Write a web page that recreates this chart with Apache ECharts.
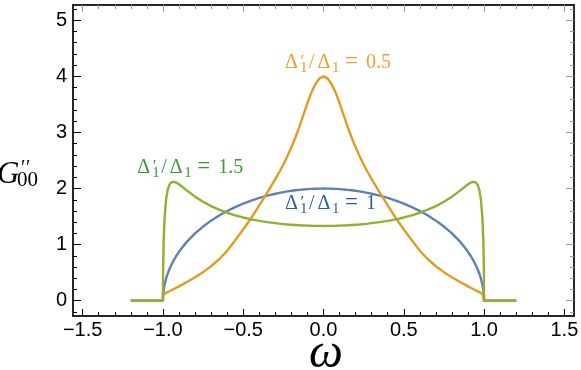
<!DOCTYPE html>
<html><head><meta charset="utf-8">
<script src="https://cdn.jsdelivr.net/npm/echarts@6/dist/echarts.min.js"></script>
<style>html,body{margin:0;padding:0;background:#fff}#c{width:581px;height:370px}</style>
</head><body><div id="c"></div>
<script>
// ---------- data ----------
const omega = [-1.2,-1.1,-1.0,-0.999,-0.995,-0.99,-0.98,-0.97,-0.96,-0.95,-0.935,-0.92,-0.9,-0.88,-0.85,-0.8,-0.75,-0.7,-0.65,-0.6,-0.55,-0.5,-0.45,-0.4,-0.35,-0.3,-0.275,-0.25,-0.225,-0.2,-0.175,-0.15,-0.125,-0.1,-0.075,-0.05,-0.025,
  0,
  0.025,0.05,0.075,0.1,0.125,0.15,0.175,0.2,0.225,0.25,0.275,0.3,0.35,0.4,0.45,0.5,0.55,0.6,0.65,0.7,0.75,0.8,0.85,0.88,0.9,0.92,0.935,0.95,0.96,0.97,0.98,0.99,0.995,0.999,1.0,1.1,1.2];

// Δ'1/Δ1 = 1  (blue)
const gBlue = [0,0,0,0.089,0.200,0.282,0.398,0.486,0.560,0.624,0.709,0.784,0.872,0.950,1.054,1.200,1.323,1.428,1.520,1.600,1.670,1.732,1.786,1.833,1.873,1.908,1.923,1.936,1.949,1.960,1.969,1.977,1.984,1.990,1.994,1.997,1.999,
  2.000,
  1.999,1.997,1.994,1.990,1.984,1.977,1.969,1.960,1.949,1.936,1.923,1.908,1.873,1.833,1.786,1.732,1.670,1.600,1.520,1.428,1.323,1.200,1.054,0.950,0.872,0.784,0.709,0.624,0.560,0.486,0.398,0.282,0.200,0.089,0,0,0];

// Δ'1/Δ1 = 0.5  (orange)
const gOrange = [0,0,0,0.106,0.115,0.124,0.14,0.155,0.169,0.183,0.205,0.227,0.257,0.288,0.335,0.418,0.51,0.615,0.74,0.89,1.08,1.27,1.475,1.70,1.93,2.17,2.295,2.43,2.575,2.735,2.91,3.105,3.315,3.525,3.715,3.865,3.965,
  4.00,
  3.965,3.865,3.715,3.525,3.315,3.105,2.91,2.735,2.575,2.43,2.295,2.17,1.93,1.70,1.475,1.27,1.08,0.89,0.74,0.615,0.51,0.418,0.335,0.288,0.257,0.227,0.205,0.183,0.169,0.155,0.14,0.124,0.115,0.106,0,0,0];

// Δ'1/Δ1 = 1.5  (green)
const gGreen = [0,0,0,0.528,1.110,1.461,1.814,1.981,2.065,2.105,2.121,2.110,2.076,2.032,1.963,1.856,1.764,1.687,1.623,1.569,1.523,1.485,1.452,1.425,1.402,1.383,1.374,1.367,1.360,1.355,1.350,1.345,1.342,1.339,1.336,1.335,1.334,
  1.333,
  1.334,1.335,1.336,1.339,1.342,1.345,1.350,1.355,1.360,1.367,1.374,1.383,1.402,1.425,1.452,1.485,1.523,1.569,1.623,1.687,1.764,1.856,1.963,2.032,2.076,2.110,2.121,2.105,2.065,1.981,1.814,1.461,1.110,0.528,0,0,0];

const xMajorTicks = [-1.5,-1.0,-0.5,0,0.5,1.0,1.5];
const xMinorTicks = [-1.5,-1.4,-1.3,-1.2,-1.1,-1.0,-0.9,-0.8,-0.7,-0.6,-0.5,-0.4,-0.3,-0.2,-0.1,0,0.1,0.2,0.3,0.4,0.5,0.6,0.7,0.8,0.9,1.0,1.1,1.2,1.3,1.4,1.5];
const yMajorTicks = [0,1,2,3,4,5];
const yMinorTicks = [-0.2,0,0.2,0.4,0.6,0.8,1,1.2,1.4,1.6,1.8,2,2.2,2.4,2.6,2.8,3,3.2,3.4,3.6,3.8,4,4.2,4.4,4.6,4.8,5,5.2];

const seriesNames = ["Δ'1/Δ1 = 1", "Δ'1/Δ1 = 0.5", "Δ'1/Δ1 = 1.5"];
const labelValues = ['1', '0.5', '1.5'];

// ---------- layout / style ----------
const X_RANGE = [-1.56, 1.56];
const Y_RANGE = [-0.272, 5.273];
const COLORS = ['#5E81B5', '#E19C24', '#8FB032'];
const LABEL_COLORS = ['#2D5C9C', '#F39C2C', '#3C9A33'];
const LABEL_ANCHORS = [[-0.239, 1.632], [-0.239, 4.145], [-1.160, 2.275]]; // left x, baseline y (data units)
const FRAME = '#1a1a1a';
const TICK_GREY = '#9a9a9a';
const SANS = '"Liberation Sans", Arial, sans-serif';
const SERIF = '"Liberation Serif", "DejaVu Serif", serif';

const fmtX = v => (v < 0 ? '\u2212' : '') + Math.abs(v).toFixed(1);

function xAx(pos, ticks, len, color, labels) {
  return {
    type: 'value', position: pos, min: X_RANGE[0], max: X_RANGE[1],
    axisLine: { show: true, onZero: false, lineStyle: { color: FRAME, width: 1.5 } },
    axisTick: { show: true, inside: true, length: len, customValues: ticks, lineStyle: { color: color, width: 1 } },
    axisLabel: labels ? { show: true, customValues: ticks, formatter: fmtX, margin: 4, fontSize: 20, fontFamily: SANS, color: '#000' } : { show: false },
    splitLine: { show: false }, minorTick: { show: false }
  };
}
function yAx(pos, ticks, len, color, labels) {
  return {
    type: 'value', position: pos, min: Y_RANGE[0], max: Y_RANGE[1],
    axisLine: { show: true, onZero: false, lineStyle: { color: FRAME, width: 1.5 } },
    axisTick: { show: true, inside: true, length: len, customValues: ticks, lineStyle: { color: color, width: 1 } },
    axisLabel: labels ? { show: true, customValues: ticks, formatter: v => String(v), margin: 6, fontSize: 20, fontFamily: SANS, color: '#000' } : { show: false },
    splitLine: { show: false }, minorTick: { show: false }
  };
}

const chart = echarts.init(document.getElementById('c'), null, { renderer: 'canvas' });
const seriesValues = [gBlue, gOrange, gGreen];
chart.setOption({
  animation: false,
  backgroundColor: '#fff',
  grid: { left: 73, right: 7, top: 5, bottom: 54, outerBoundsMode: 'none', containLabel: false },
  xAxis: [
    xAx('bottom', xMajorTicks, 7, '#000', true),
    xAx('bottom', xMinorTicks, 4, '#000', false),
    xAx('top', xMajorTicks, 7, TICK_GREY, false),
    xAx('top', xMinorTicks, 4, TICK_GREY, false)
  ],
  yAxis: [
    yAx('left', yMajorTicks, 8, '#000', true),
    yAx('left', yMinorTicks, 4, '#000', false),
    yAx('right', yMajorTicks, 8, TICK_GREY, false),
    yAx('right', yMinorTicks, 4, TICK_GREY, false)
  ],
  series: seriesValues.map((vals, k) => ({
    name: seriesNames[k], type: 'line', xAxisIndex: 0, yAxisIndex: 0,
    data: omega.map((w, i) => [w, vals[i]]),
    showSymbol: false, symbol: 'none', smooth: false, clip: true,
    lineStyle: { color: COLORS[k], width: 2.4, join: 'round' }, z: 2 + k
  }))
});

// ---------- text annotations ----------
const mctx = document.createElement('canvas').getContext('2d');
function fontStr(size, italic) { return (italic ? 'italic ' : '') + size + 'px ' + SERIF; }
function tw(t, f) { mctx.font = f; return mctx.measureText(t).width; }
function midOffset(f) {
  mctx.font = f; mctx.textBaseline = 'alphabetic';
  const a = mctx.measureText('H').actualBoundingBoxAscent;
  mctx.textBaseline = 'middle';
  const b = mctx.measureText('H').actualBoundingBoxAscent;
  mctx.textBaseline = 'alphabetic';
  return a - b;
}
function txt(t, x, baseY, size, color, italic) {
  const f = fontStr(size, italic);
  return { type: 'text', x: x, y: baseY - midOffset(f), silent: true, z: 100,
    style: { text: t, font: f, fill: color, align: 'left', verticalAlign: 'middle' } };
}
// piece offsets (px from the label's left edge), matched to the reference typesetting
function ratioLabel(valueText, color, x0, baseY) {
  const B = 20, S = 15, P = 17;
  return [
    txt('\u0394', x0, baseY, B, color),
    txt('\u2032', x0 + 15.5, baseY - 2, P, color),
    txt('1', x0 + 15, baseY + 4, S, color),
    txt('/', x0 + 24, baseY, B, color),
    txt('\u0394', x0 + 32.5, baseY, B, color),
    txt('1', x0 + 47, baseY + 4, S, color),
    txt('=', x0 + 60, baseY, 23, color),
    txt(valueText, x0 + 81, baseY, B, color)
  ];
}

const graphics = [];
LABEL_ANCHORS.forEach((a, k) => {
  const p = chart.convertToPixel({ xAxisIndex: 0, yAxisIndex: 0 }, a);
  graphics.push(...ratioLabel(labelValues[k], LABEL_COLORS[k], p[0], p[1]));
});
// y-axis title G''_00
graphics.push(txt('G', -3, 183, 31, '#000', true));
graphics.push(txt('\u2032', 21, 174, 20, '#000', false));
graphics.push(txt('\u2032', 26, 174, 20, '#000', false));
graphics.push(txt('00', 17, 185.5, 21, '#000', false));
// x-axis title ω
const fO = fontStr(48, true);
const wO = tw('\u03C9', fO);
graphics.push(txt('\u03C9', 326 - wO / 2, 367, 48, '#000', true));

chart.setOption({ graphic: { elements: graphics } });
</script>
</body></html>
